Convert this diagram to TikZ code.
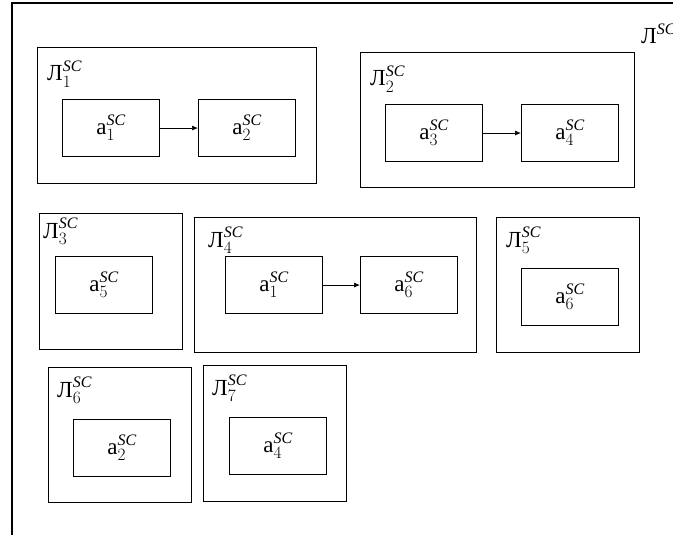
\documentclass[tikz,border=0pt]{standalone}
\usepackage{fontspec}
\setmainfont{Liberation Serif}
\DeclareMathSizes{23}{23}{16}{11}
\usetikzlibrary{arrows.meta}
\newcommand{\Lab}[1]{Л$_{#1}^{\mathit{SC}}$}
\newcommand{\Act}[1]{a$_{#1}^{\mathit{SC}}$}
\begin{document}
\begin{tikzpicture}[x=1pt,y=-1pt,
  outerbox/.style={draw, line width=1.1pt, anchor=north west, inner sep=0pt},
  innerbox/.style={draw, line width=1.1pt, anchor=north west, inner sep=0pt, minimum width=97pt, minimum height=57pt, font=\fontsize{23}{25}\selectfont},
  lab/.style={anchor=base west, inner sep=0pt, font=\fontsize{23}{25}\selectfont},
  conn/.style={-{Latex[length=6pt,width=5pt]}, line width=0.7pt}]
\useasboundingbox (0,0) rectangle (673,535);
\fill[white] (0,0) rectangle (673,535);
% outer frame
\coordinate (ftl) at (12,3);
\coordinate (ftr) at (680,3);
\coordinate (fbl) at (12,540);
\draw[line width=1.1pt] (ftr) -- (ftl) -- (fbl);
\node[lab] (L) at (641,44) {Л$^{\mathit{SC}}$};
% J1
\node[outerbox, minimum width=279pt, minimum height=136pt] (J1) at (37,47) {};
\node[lab] (L1) at (47,81) {\Lab{1}};
\node[innerbox] (a1) at (62,99) {\Act{1}};
\node[innerbox] (a2) at (198,99) {\Act{2}};
\draw[conn] (a1) -- (a2);
% J2
\node[outerbox, minimum width=274pt, minimum height=135pt] (J2) at (360,52) {};
\node[lab] (L2) at (370,86) {\Lab{2}};
\node[innerbox] (a3) at (385,104) {\Act{3}};
\node[innerbox] (a4) at (521,104) {\Act{4}};
\draw[conn] (a3) -- (a4);
% J3
\node[outerbox, minimum width=143pt, minimum height=136pt] (J3) at (39,213) {};
\node[lab] (L3) at (43,238) {\Lab{3}};
\node[innerbox] (a5) at (55,256) {\Act{5}};
% J4
\node[outerbox, minimum width=282pt, minimum height=135pt] (J4) at (194,217) {};
\node[lab] (L4) at (208,247) {\Lab{4}};
\node[innerbox] (a1b) at (225,256) {\Act{1}};
\node[innerbox] (a6) at (360,256) {\Act{6}};
\draw[conn] (a1b) -- (a6);
% J5
\node[outerbox, minimum width=143pt, minimum height=135pt] (J5) at (496,217) {};
\node[lab] (L5) at (506,247) {\Lab{5}};
\node[innerbox] (a6b) at (521,268) {\Act{6}};
% J6
\node[outerbox, minimum width=143pt, minimum height=135pt] (J6) at (48,367) {};
\node[lab] (L6) at (57,397) {\Lab{6}};
\node[innerbox] (a2b) at (73,419) {\Act{2}};
% J7
\node[outerbox, minimum width=143pt, minimum height=136pt] (J7) at (203,365) {};
\node[lab] (L7) at (212,395) {\Lab{7}};
\node[innerbox] (a4b) at (229,417) {\Act{4}};
\end{tikzpicture}
\end{document}
